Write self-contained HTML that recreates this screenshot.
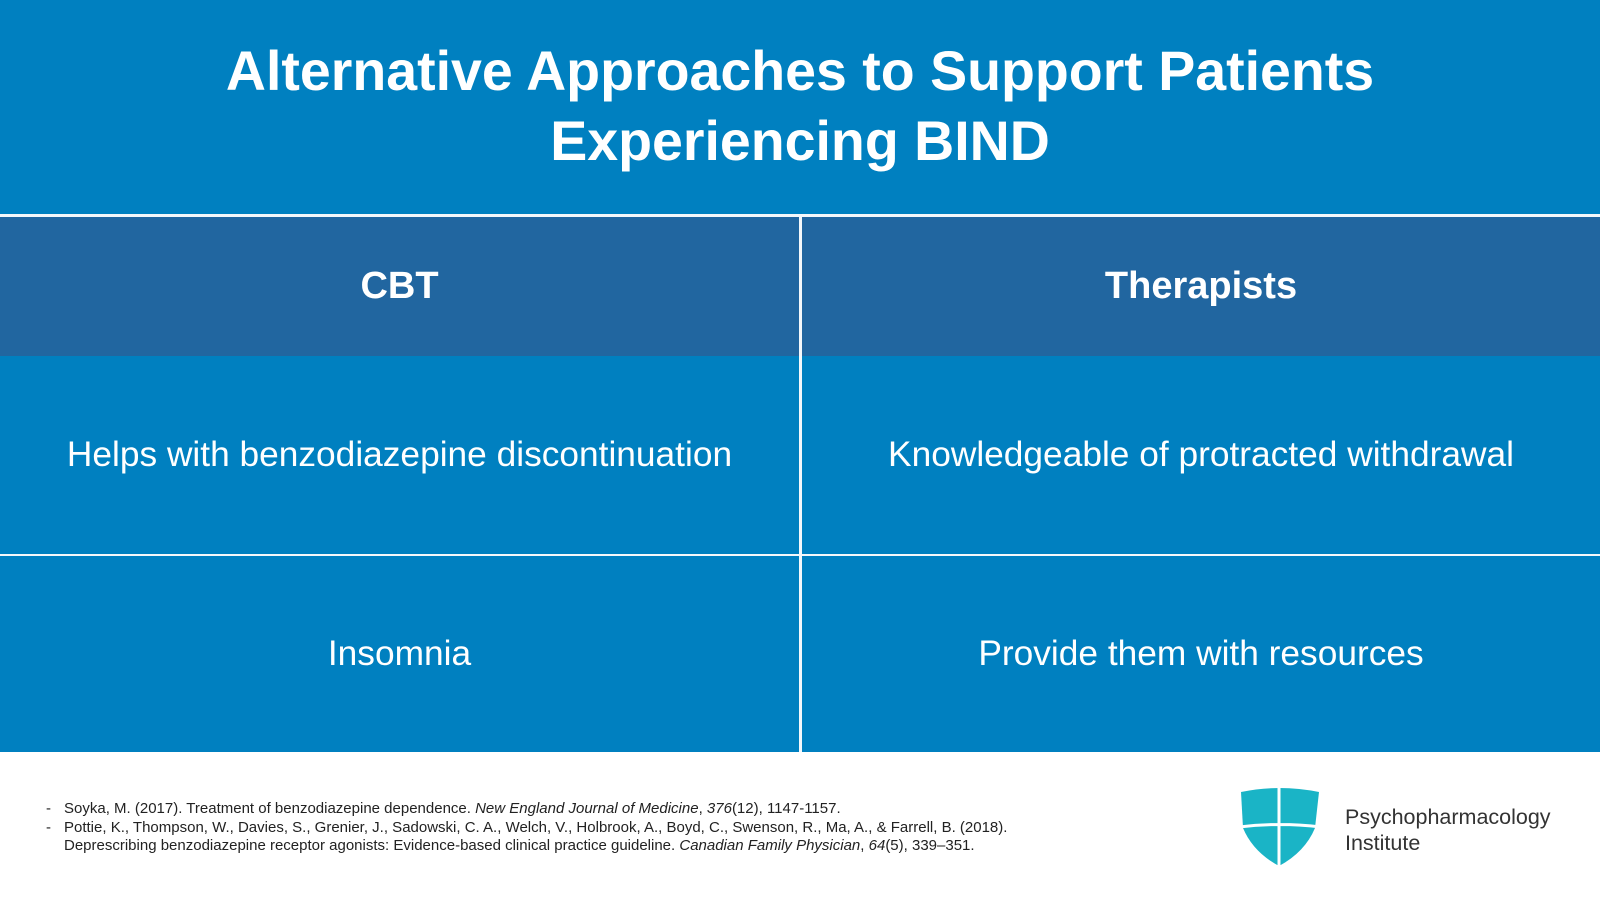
<!DOCTYPE html>
<html><head><meta charset="utf-8"><style>
body{margin:0;width:1600px;height:899px;overflow:hidden;background:#fff;font-family:"Liberation Sans",sans-serif;position:relative}
.top{position:absolute;left:0;top:0;width:1600px;height:215px;background:#0080c0}
.title{position:absolute;left:0;width:1600px;text-align:center;color:#fff;font-weight:bold;font-size:55.5px;line-height:70px;top:36px}
.cell{position:absolute;color:#fff;text-align:center;display:flex;align-items:center;justify-content:center}
.h{background:#2166a0;font-weight:bold;font-size:38px}
.b{background:#0080c0;font-size:35.3px}
.ln{position:absolute;background:#f4f8fb}
.refs{position:absolute;left:46px;top:800px;font-size:15px;color:#222;line-height:18.5px}
.refs div{padding-left:18px;position:relative}
.refs span.d{position:absolute;left:0}
</style></head><body>
<div class="top"></div>
<div class="title">Alternative Approaches to Support Patients<br>Experiencing BIND</div>
<div class="ln" style="left:0;top:214px;width:1600px;height:3px"></div>
<div class="cell h" style="left:0;top:217px;width:799px;height:139px">CBT</div>
<div class="cell h" style="left:802px;top:217px;width:798px;height:139px">Therapists</div>
<div class="cell b" style="left:0;top:356px;width:799px;height:198px">Helps with benzodiazepine discontinuation</div>
<div class="cell b" style="left:802px;top:356px;width:798px;height:198px">Knowledgeable of protracted withdrawal</div>
<div class="cell b" style="left:0;top:556px;width:799px;height:196px">Insomnia</div>
<div class="cell b" style="left:802px;top:556px;width:798px;height:196px">Provide them with resources</div>
<div class="ln" style="left:799px;top:217px;width:3px;height:535px"></div>
<div class="ln" style="left:0;top:554px;width:1600px;height:2px"></div>
<div class="refs">
<div><span class="d">-</span>Soyka, M. (2017). Treatment of benzodiazepine dependence. <i>New England Journal of Medicine</i>, <i>376</i>(12), 1147-1157.</div>
<div><span class="d">-</span>Pottie, K., Thompson, W., Davies, S., Grenier, J., Sadowski, C. A., Welch, V., Holbrook, A., Boyd, C., Swenson, R., Ma, A., &amp; Farrell, B. (2018).<br>Deprescribing benzodiazepine receptor agonists: Evidence-based clinical practice guideline. <i>Canadian Family Physician</i>, <i>64</i>(5), 339–351.</div>
</div>
<svg style="position:absolute;left:1239px;top:788px" width="82" height="80" viewBox="0 0 82 80">
<path d="M2 4 Q40 -4 80 4 L76 40 Q66 64 40 78 Q14 64 4 40 Z" fill="#1ab4c6"/>
<path d="M40 0 L40 80 M0 39 Q40 34 82 39" stroke="#fff" stroke-width="3" fill="none"/>
</svg>
<div style="position:absolute;left:1345px;top:804px;font-size:21.5px;color:#333;line-height:26px">Psychopharmacology<br>Institute</div>
</body></html>
